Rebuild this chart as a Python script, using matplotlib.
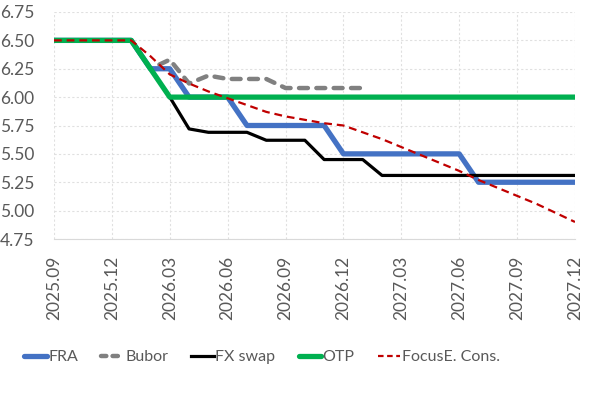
import numpy as np
import matplotlib.pyplot as plt
from matplotlib.lines import Line2D

months = ['2025.09', '2025.10', '2025.11', '2025.12', '2026.01', '2026.02', '2026.03',
          '2026.04', '2026.05', '2026.06', '2026.07', '2026.08', '2026.09', '2026.10',
          '2026.11', '2026.12', '2027.01', '2027.02', '2027.03', '2027.04', '2027.05',
          '2027.06', '2027.07', '2027.08', '2027.09', '2027.10', '2027.11', '2027.12']

fra = [6.50, 6.50, 6.50, 6.50, 6.50, 6.25, 6.25, 6.00, 6.00, 6.00, 5.75, 5.75, 5.75, 5.75,
       5.75, 5.50, 5.50, 5.50, 5.50, 5.50, 5.50, 5.50, 5.25, 5.25, 5.25, 5.25, 5.25, 5.25]
bubor = [6.50, 6.50, 6.50, 6.50, 6.50, 6.25, 6.33, 6.12, 6.19, 6.16, 6.16, 6.16, 6.08, 6.08,
         6.08, 6.08, 6.08]
fx_swap = [6.50, 6.50, 6.50, 6.50, 6.50, 6.25, 6.00, 5.72, 5.69, 5.69, 5.69, 5.62, 5.62, 5.62,
           5.45, 5.45, 5.45, 5.31, 5.31, 5.31, 5.31, 5.31, 5.31, 5.31, 5.31, 5.31, 5.31, 5.31]
otp = [6.50, 6.50, 6.50, 6.50, 6.50, 6.25, 6.00, 6.00, 6.00, 6.00, 6.00, 6.00, 6.00, 6.00,
       6.00, 6.00, 6.00, 6.00, 6.00, 6.00, 6.00, 6.00, 6.00, 6.00, 6.00, 6.00, 6.00, 6.00]
focus = [6.50, 6.50, 6.50, 6.50, 6.50, 6.36, 6.20, 6.12, 6.05, 5.99, 5.93, 5.87, 5.83, 5.80,
         5.77, 5.75, 5.69, 5.63, 5.56, 5.49, 5.42, 5.35, 5.27, 5.20, 5.13, 5.06, 4.98, 4.90]

plt.rcParams['font.family'] = ['Lato', 'DejaVu Sans']
grey_txt = '#595959'

fig = plt.figure(figsize=(6.02, 3.93), dpi=100)
ax = fig.add_axes([54 / 602, 1 - 239 / 393, (575 - 54) / 602, (239 - 12) / 393])

x = np.arange(len(months))
ax.plot(x[:len(bubor)], bubor, color='#808080', lw=3.2, ls=(0, (2.0, 1.9)),
        dash_capstyle='round', zorder=3)
ax.plot(x, fx_swap, color='black', lw=2.3, zorder=4)
ax.plot(x, fra, color='#4472C4', lw=3.8, zorder=3)
ax.plot(x, otp, color='#00B050', lw=3.8, zorder=5)
ax.plot(x, focus, color='#C00000', lw=1.6, ls=(0, (3.5, 2.2)), zorder=6)

ax.set_xlim(0, len(months) - 1)
ax.set_ylim(4.75, 6.75)
ax.set_yticks(np.arange(4.75, 6.76, 0.25))
ax.set_yticklabels([f'{v:.2f}' for v in np.arange(4.75, 6.76, 0.25)])
ax.set_xticks(x[::3])
ax.set_xticklabels(months[::3], rotation=90)
ax.tick_params(length=0, colors=grey_txt, labelsize=12.5)
ax.tick_params(axis='x', pad=12)
ax.tick_params(axis='y', pad=14)

ax.grid(True, color='#e0e0e0', ls=(0, (2, 2)), lw=0.8)
for s in ['top', 'right', 'left']:
    ax.spines[s].set_visible(False)
ax.spines['bottom'].set_color('#d9d9d9')

handles = [
    Line2D([], [], color='#4472C4', lw=3.8, solid_capstyle='round'),
    Line2D([], [], color='#808080', lw=3.2, ls=(0, (1.2, 1.4)), dash_capstyle='round'),
    Line2D([], [], color='black', lw=2.3),
    Line2D([], [], color='#00B050', lw=3.8, solid_capstyle='round'),
    Line2D([], [], color='#C00000', lw=1.6, ls=(0, (2.5, 1.6))),
]
labels = ['FRA', 'Bubor', 'FX swap', 'OTP', 'FocusE. Cons.']
leg = fig.legend(handles, labels, loc='center', bbox_to_anchor=(0.435, 1 - 357 / 393),
                 ncol=5, frameon=False, fontsize=11.5, handlelength=1.4, handletextpad=0.1,
                 columnspacing=1.45)
for t in leg.get_texts():
    t.set_color(grey_txt)

fig.savefig('out.png', dpi=100)
